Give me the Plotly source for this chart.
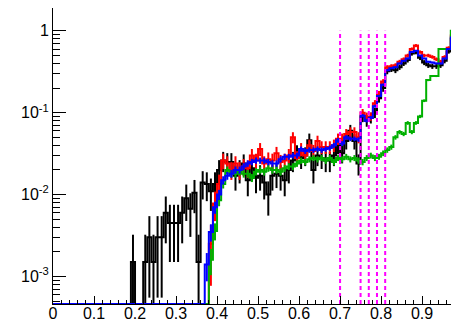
import numpy as np
import plotly.graph_objects as go

# ============================================================
# Binning (100 bins of width 0.01 from 0 to 1)
# ============================================================
x_lo = 0.0
bin_w = 0.01

# ============================================================
# Histogram contents (0 = empty bin)
# ============================================================
black = [
    0, 0, 0, 0, 0, 0, 0, 0, 0, 0,
    0, 0, 0, 0, 0, 0, 0, 0, 0, 0.0015,
    0, 0, 0.0015, 0.003, 0.0015, 0.003, 0.003, 0.006, 0.0045, 0.0045,
    0.0045, 0.006, 0.009, 0.0067, 0.0105, 0.0015, 0.014, 0.0135, 0.011, 0.0135,
    0.02, 0.026, 0.025, 0.025, 0.017, 0.02, 0.024, 0.015, 0.021, 0.016,
    0.017, 0.014, 0.01, 0.017, 0.018, 0.017, 0.015, 0.02, 0.026, 0.032,
    0.028, 0.03, 0.046, 0.02, 0.03, 0.028, 0.026, 0.026, 0.03, 0.04,
    0.032, 0.045, 0.06, 0.045, 0.024, 0.09, 0.08, 0.087, 0.1, 0.15,
    0.2, 0.32, 0.34, 0.33, 0.36, 0.4, 0.44, 0.53, 0.55, 0.47,
    0.41, 0.38, 0.37, 0.37, 0.38, 0.43, 0.56, 0.8, 0.95, 1.2,
]

red = [
    0, 0, 0, 0, 0, 0, 0, 0, 0, 0,
    0, 0, 0, 0, 0, 0, 0, 0, 0, 0,
    0, 0, 0, 0, 0, 0, 0, 0, 0, 0,
    0, 0, 0, 0, 0, 0, 0, 0, 0.0025, 0.0078,
    0.0135, 0.026, 0.024, 0.02, 0.024, 0.02, 0.022, 0.021, 0.03, 0.026,
    0.036, 0.024, 0.027, 0.026, 0.032, 0.025, 0.026, 0.03, 0.05, 0.028,
    0.036, 0.03, 0.04, 0.034, 0.045, 0.038, 0.038, 0.038, 0.04, 0.048,
    0.048, 0.055, 0.058, 0.058, 0.05, 0.1, 0.09, 0.09, 0.13, 0.17,
    0.24, 0.36, 0.37, 0.38, 0.42, 0.45, 0.5, 0.6, 0.66, 0.55,
    0.5, 0.5, 0.48, 0.45, 0.42, 0.48, 0.62, 0.88, 1.0, 1.2,
]

blue = [
    0, 0, 0, 0, 0, 0, 0, 0, 0, 0,
    0, 0, 0, 0, 0, 0, 0, 0, 0, 0,
    0, 0, 0, 0, 0, 0, 0, 0, 0, 0,
    0, 0, 0, 0, 0, 0, 0, 0.0014, 0.0035, 0.007,
    0.01, 0.015, 0.017, 0.018, 0.02, 0.02, 0.022, 0.024, 0.025, 0.026,
    0.026, 0.026, 0.025, 0.024, 0.024, 0.027, 0.029, 0.029, 0.03, 0.03,
    0.036, 0.034, 0.035, 0.035, 0.036, 0.035, 0.036, 0.037, 0.04, 0.046,
    0.042, 0.05, 0.048, 0.048, 0.047, 0.092, 0.08, 0.087, 0.12, 0.16,
    0.22, 0.33, 0.35, 0.36, 0.4, 0.43, 0.46, 0.55, 0.57, 0.5,
    0.46, 0.42, 0.41, 0.4, 0.4, 0.46, 0.6, 0.83, 1.0, 1.2,
]

green = [
    0, 0, 0, 0, 0, 0, 0, 0, 0, 0,
    0, 0, 0, 0, 0, 0, 0, 0, 0, 0,
    0, 0, 0, 0, 0, 0, 0, 0, 0, 0,
    0, 0, 0, 0, 0, 0, 0, 0, 0.0016, 0.0036,
    0.0085, 0.0135, 0.02, 0.018, 0.018, 0.019, 0.018, 0.018, 0.016, 0.019,
    0.02, 0.019, 0.021, 0.02, 0.02, 0.019, 0.021, 0.022, 0.022, 0.024,
    0.026, 0.025, 0.027, 0.028, 0.027, 0.028, 0.026, 0.028, 0.025, 0.028,
    0.027, 0.029, 0.027, 0.028, 0.026, 0.025, 0.028, 0.03, 0.028, 0.029,
    0.032, 0.035, 0.038, 0.05, 0.058, 0.055, 0.075, 0.058, 0.075, 0.09,
    0.14, 0.25, 0.28, 0.28, 0.6, 0.6, 0.6, 1.0, 1.0, 1.0,
]

# weight of one entry -> size of the sqrt(N) error bars
w_black = 0.002
w_red = 0.0012
w_green = 0.0002
w_blue = 0.0002

# cut positions (dashed magenta lines)
cut_lines = [0.70, 0.75, 0.77, 0.79, 0.81]
cut_top = 1.0

# axis ticks
x_ticks = [0, 0.1, 0.2, 0.3, 0.4, 0.5, 0.6, 0.7, 0.8, 0.9]
x_tick_text = ["0", "0.1", "0.2", "0.3", "0.4", "0.5", "0.6", "0.7", "0.8", "0.9"]
y_ticks = [1e-3, 1e-2, 1e-1, 1]
y_tick_text = ["10<sup>-3</sup>", "10<sup>-2</sup>", "10<sup>-1</sup>", "1"]

# ============================================================
# Axis ranges
# ============================================================
x_range = [0, 0.99]
y_log_range = [-3.337, 0.279]
y_floor = 10 ** y_log_range[0]

FONT = "Liberation Sans, Arial, Helvetica, sans-serif"

fig = go.Figure()


def add_hist(vals, color, w):
    vals = np.array(vals, dtype=float)
    edges = x_lo + bin_w * np.arange(len(vals) + 1)
    centers = edges[:-1] + bin_w / 2
    # empty bins drawn on the frame bottom, like ROOT
    shown = np.where(vals > 0, vals, y_floor)
    fig.add_trace(go.Scatter(
        x=edges, y=np.append(shown, shown[-1]), mode="lines",
        line=dict(color=color, width=2, shape="hv"), hoverinfo="skip"))
    m = vals > 0
    err = np.sqrt(vals[m] * w)
    err_lo = np.minimum(err, vals[m] - y_floor * 0.98)
    fig.add_trace(go.Scatter(
        x=centers[m], y=vals[m], mode="markers",
        marker=dict(size=0.1, color=color, opacity=0),
        error_y=dict(type="data", array=err, arrayminus=err_lo,
                     color=color, thickness=2, width=0),
        hoverinfo="skip"))


add_hist(black, "black", w_black)
add_hist(red, "#ff0000", w_red)
add_hist(green, "#00b000", w_green)
add_hist(blue, "#0000ff", w_blue)

for xc in cut_lines:
    fig.add_trace(go.Scatter(
        x=[xc, xc], y=[y_floor, cut_top], mode="lines",
        line=dict(color="#ff00ff", width=2, dash="4px,3px"), hoverinfo="skip"))

minor_y = [m * 10.0 ** k for k in range(-4, 1) for m in range(2, 10)]

# the page body has an 8px margin, so the figure is sized/margined to match
fig.update_layout(
    width=451, height=314,
    margin=dict(l=45, r=0, t=0, b=18, autoexpand=False),
    plot_bgcolor="white", paper_bgcolor="white",
    showlegend=False,
    font=dict(family=FONT, size=16, color="black"),
)
fig.update_xaxes(
    range=x_range, tickvals=x_ticks, ticktext=x_tick_text,
    ticks="inside", ticklen=8, tickwidth=1, tickcolor="black",
    minor=dict(ticks="inside", ticklen=4, tick0=0, dtick=0.02, tickcolor="black", showgrid=False),
    showline=True, linecolor="black", linewidth=1, mirror=True,
    showgrid=False, zeroline=False, automargin=False,
    ticklabelstandoff=-5,
    tickfont=dict(family=FONT, size=16),
)
fig.update_yaxes(
    type="log", range=y_log_range, tickvals=y_ticks, ticktext=y_tick_text,
    ticks="inside", ticklen=13, tickwidth=1, tickcolor="black",
    minor=dict(ticks="inside", ticklen=7, tickvals=minor_y, tickcolor="black", showgrid=False),
    showline=True, linecolor="black", linewidth=1,
    showgrid=False, zeroline=False, automargin=False,
    tickfont=dict(family=FONT, size=16),
)

fig.write_html("out.html")
